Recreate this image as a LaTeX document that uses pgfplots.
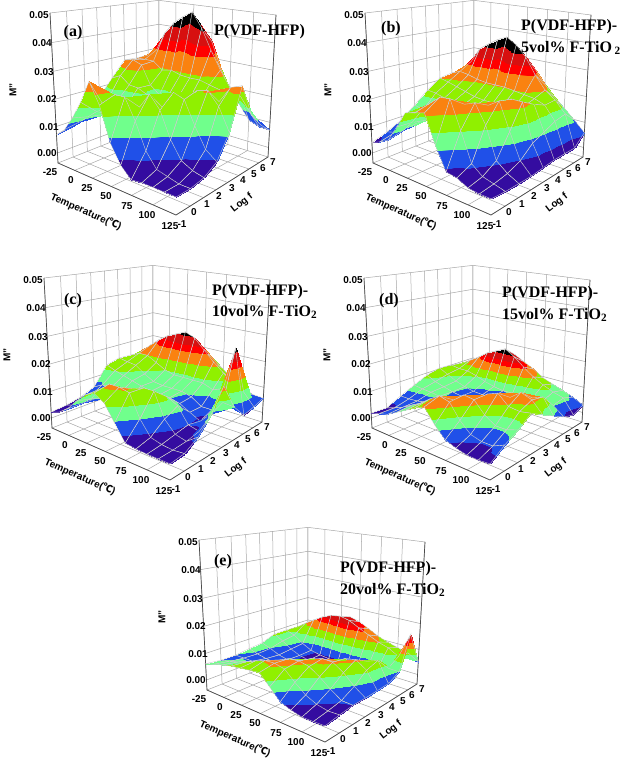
\documentclass[border=0pt]{standalone}
\usepackage{fontspec}
\usepackage{pgfplots}
\usepackage{pgfplotstable}
\pgfplotsset{compat=1.18}
\setmainfont{Liberation Sans}
\newfontfamily\serifb{Liberation Serif}
\newfontfamily\cjk{Noto Sans CJK SC}
\definecolor{c1}{RGB}{52,12,160}
\definecolor{c2}{RGB}{32,80,232}
\definecolor{c3}{RGB}{112,255,140}
\definecolor{c4}{RGB}{144,240,0}
\definecolor{c5}{RGB}{250,130,16}
\definecolor{c6}{RGB}{255,0,0}
\definecolor{c7}{RGB}{215,16,16}
\definecolor{c8}{RGB}{0,0,0}
\pgfplotsset{
 colormap={bands}{color(0)=(c1) color(1)=(c1) color(1.01)=(c2) color(2)=(c2) color(2.01)=(c3) color(3)=(c3) color(3.01)=(c4) color(4)=(c4) color(4.01)=(c5) color(5)=(c5) color(5.01)=(c6) color(5.6)=(c6) color(5.61)=(c7) color(6.4)=(c7) color(6.41)=(c8) color(7)=(c8)},
 /pgf/declare function={
  uu(\T)=(\T+25)/150;
  vv(\f)=(\f+1)/8;
  ww(\M)=(\M+0.00385)/0.05385;
  DD(\T,\f,\M)=1-0.17524*uu(\T)+0.23048*vv(\f)-0.07274*ww(\M);
  PX(\T,\f,\M)=(87.16*uu(\T)+137.65*vv(\f)+58-11.64*ww(\M))/DD(\T,\f,\M);
  PY(\T,\f,\M)=(14.32*uu(\T)-11.65*vv(\f)+163-150.95*ww(\M))/DD(\T,\f,\M);
  TT(\i)=-25+12.5*floor((\i+0.5)/9);
  FF(\i)=7-(\i-9*floor((\i+0.5)/9));
 },
 panel/.style={hide axis,x=1pt,y=1pt,xmin=0,xmax=300,ymin=0,ymax=250,y dir=reverse,clip=false,anchor=north west},
}
\pgfplotstableread[row sep=\\]{M\\
.0246\\.0279\\.0278\\.0282\\.0222\\.016\\.010\\.008\\.007\\
.027\\.0307\\.028\\.029\\.024\\.016\\.012\\.011\\.010\\
.035\\.0384\\.028\\.0277\\.0212\\.016\\.013\\.014\\.0154\\
.038\\.043\\.0252\\.0206\\.0209\\.015\\.014\\.017\\.022\\
.040\\.0459\\.026\\.0176\\.0192\\.014\\.015\\.019\\.030\\
.040\\.0483\\.0249\\.0186\\.0183\\.014\\.017\\.025\\.023\\
.0366\\.0427\\.0246\\.0186\\.0165\\.015\\.020\\.0251\\.0114\\
.0267\\.0349\\.0247\\.018\\.015\\.019\\.0255\\.018\\.005\\
.0188\\.028\\.0237\\.018\\.018\\.0255\\.021\\.009\\.0015\\
.014\\.022\\.0228\\.019\\.0255\\.024\\.012\\.004\\.002\\
.0087\\.0202\\.0229\\.021\\.0265\\.016\\.006\\.003\\.002\\
.0072\\.0143\\.022\\.027\\.022\\.009\\.004\\.002\\.002\\
.0069\\.0109\\.0165\\.0285\\.014\\.006\\.003\\.002\\.002\\
}\tabA
\pgfplotstableread[row sep=\\]{M\\
.018\\.0211\\.0216\\.0208\\.0173\\.0129\\.0087\\.006\\.004\\
.021\\.026\\.023\\.020\\.017\\.012\\.009\\.007\\.0055\\
.024\\.032\\.0225\\.019\\.016\\.012\\.010\\.009\\.0074\\
.026\\.0346\\.0215\\.018\\.0155\\.012\\.012\\.013\\.0133\\
.03\\.037\\.021\\.017\\.015\\.013\\.014\\.018\\.0193\\
.03\\.0386\\.021\\.0165\\.015\\.014\\.016\\.022\\.0204\\
.03\\.0362\\.021\\.0165\\.015\\.015\\.019\\.025\\.0215\\
.026\\.0322\\.0205\\.0165\\.016\\.017\\.022\\.0255\\.0119\\
.021\\.0261\\.02\\.0165\\.018\\.021\\.0235\\.016\\.0042\\
.0169\\.0212\\.0195\\.018\\.0225\\.0235\\.017\\.006\\.0036\\
.0135\\.0183\\.018\\.020\\.0225\\.014\\.006\\.003\\.0018\\
.0098\\.014\\.013\\.011\\.009\\.005\\.003\\.002\\.0014\\
.006\\.002\\.002\\.002\\.0015\\.001\\.001\\.001\\.0014\\
}\tabB
\pgfplotstableread[row sep=\\]{M\\
.012\\.0137\\.0143\\.0146\\.0133\\.0061\\.0040\\.0028\\.0023\\
.015\\.018\\.016\\.014\\.012\\.008\\.005\\.004\\.0035\\
.017\\.0211\\.016\\.0135\\.011\\.008\\.006\\.006\\.006\\
.018\\.0236\\.014\\.011\\.010\\.007\\.007\\.009\\.010\\
.019\\.0252\\.012\\.009\\.009\\.007\\.009\\.0135\\.0134\\
.020\\.0268\\.011\\.0085\\.008\\.007\\.011\\.0165\\.0153\\
.019\\.0252\\.011\\.0085\\.008\\.008\\.014\\.0165\\.0131\\
.016\\.0213\\.011\\.0085\\.008\\.011\\.0155\\.0157\\.0075\\
.013\\.0175\\.011\\.0075\\.007\\.0115\\.0155\\.008\\.0021\\
.010\\.0142\\.0095\\.005\\.005\\.0095\\.007\\.003\\.0016\\
.008\\.011\\.011\\.005\\.003\\.004\\.003\\.002\\.0014\\
.006\\.009\\.027\\.009\\.007\\.003\\.002\\.0016\\.0014\\
.0058\\.0044\\.0034\\.0086\\.018\\.0101\\.0049\\.002\\.0014\\
}\tabC
\pgfplotstableread[row sep=\\]{M\\
.008\\.0092\\.0100\\.0104\\.0091\\.0068\\.0044\\.0017\\.0019\\
.0095\\.0115\\.0095\\.0088\\.0075\\.0064\\.0044\\.003\\.003\\
.011\\.0138\\.0095\\.0070\\.0065\\.0062\\.0048\\.0045\\.004\\
.013\\.0165\\.0085\\.0058\\.0056\\.0058\\.0055\\.0065\\.006\\
.015\\.0182\\.0072\\.0050\\.0050\\.0056\\.0065\\.0085\\.008\\
.016\\.020\\.0062\\.0048\\.0048\\.0056\\.0078\\.0112\\.0101\\
.014\\.0176\\.0056\\.0048\\.0050\\.0062\\.0100\\.0135\\.0117\\
.012\\.0145\\.0058\\.0052\\.0058\\.0085\\.0130\\.0125\\.0069\\
.0095\\.0116\\.0062\\.0058\\.0070\\.0125\\.0125\\.0075\\.0032\\
.0080\\.0095\\.0062\\.0065\\.0105\\.0140\\.0085\\.0040\\.0019\\
.0065\\.0078\\.0062\\.0095\\.0135\\.0105\\.0060\\.0030\\.0011\\
.0050\\.0066\\.0058\\.0110\\.0120\\.0100\\.0060\\.0030\\.001\\
.003\\.0012\\.0027\\.0053\\.0079\\.0107\\.0073\\.0048\\.0014\\
}\tabD
\pgfplotstableread[row sep=\\]{M\\
.0075\\.0084\\.0087\\.0087\\.0067\\.0062\\.0055\\.0055\\.0062\\
.0095\\.0110\\.0075\\.0068\\.0055\\.0052\\.0055\\.0062\\.0072\\
.0115\\.0134\\.0050\\.0045\\.0040\\.0045\\.0055\\.0072\\.0082\\
.013\\.0156\\.0032\\.0030\\.0032\\.0042\\.0060\\.0085\\.0090\\
.015\\.0172\\.0024\\.0022\\.0028\\.0045\\.0075\\.0100\\.0095\\
.016\\.0178\\.0020\\.0020\\.0030\\.0060\\.0095\\.0114\\.0100\\
.015\\.0170\\.0020\\.0020\\.0040\\.0085\\.0112\\.0116\\.0105\\
.013\\.0150\\.0020\\.0022\\.0055\\.0105\\.0116\\.0108\\.0069\\
.011\\.0132\\.0022\\.0035\\.0085\\.0116\\.0108\\.0075\\.0032\\
.0095\\.0114\\.0028\\.0060\\.0108\\.0115\\.0085\\.0045\\.0019\\
.0085\\.0102\\.0040\\.0090\\.0116\\.0090\\.0055\\.0028\\.0011\\
.0075\\.0080\\.0055\\.0105\\.0090\\.0055\\.0030\\.0020\\.0012\\
.0050\\.0175\\.0054\\.0032\\.0030\\.0028\\.0028\\.0022\\.0014\\
}\tabE
\newcommand\floorM{-0.00385}
\tikzset{wall/.style={draw=black!35,line width=.5pt},edge/.style={draw=black!70,line width=.7pt},tl/.style={font=\bfseries\fontsize{10}{10}\selectfont,inner sep=0pt},ttl/.style={font=\serifb\bfseries\fontsize{16}{16}\selectfont,inner sep=0pt}}
\newcommand\frameaxis{%
 \pgfplotsinvokeforeach{-25,0,25,50,75,100,125}{\draw[wall] (axis cs:{PX(##1,-1,\floorM)},{PY(##1,-1,\floorM)}) -- (axis cs:{PX(##1,7,\floorM)},{PY(##1,7,\floorM)});
  \draw[wall] (axis cs:{PX(##1,7,\floorM)},{PY(##1,7,\floorM)}) -- (axis cs:{PX(##1,7,0.05)},{PY(##1,7,0.05)});}
 \pgfplotsinvokeforeach{-1,0,1,2,3,4,5,6,7}{\draw[wall] (axis cs:{PX(-25,##1,\floorM)},{PY(-25,##1,\floorM)}) -- (axis cs:{PX(125,##1,\floorM)},{PY(125,##1,\floorM)});
  \draw[wall] (axis cs:{PX(-25,##1,\floorM)},{PY(-25,##1,\floorM)}) -- (axis cs:{PX(-25,##1,0.05)},{PY(-25,##1,0.05)});}
 \pgfplotsinvokeforeach{0,0.01,0.02,0.03,0.04,0.05}{\draw[wall] (axis cs:{PX(-25,-1,##1)},{PY(-25,-1,##1)}) -- (axis cs:{PX(-25,7,##1)},{PY(-25,7,##1)}) -- (axis cs:{PX(125,7,##1)},{PY(125,7,##1)});}
 \draw[edge] (axis cs:{PX(-25,-1,0.05)},{PY(-25,-1,0.05)}) -- (axis cs:{PX(-25,-1,\floorM)},{PY(-25,-1,\floorM)}) -- (axis cs:{PX(125,-1,\floorM)},{PY(125,-1,\floorM)}) -- (axis cs:{PX(125,7,\floorM)},{PY(125,7,\floorM)}) -- (axis cs:{PX(125,7,0.05)},{PY(125,7,0.05)});
}
\newcommand\tk[3]{\node[tl] at (axis cs:#1,#2) {#3};}
\newcommand\ticklabels{%
 \tk{39}{15}{0.05}\tk{42}{43}{0.04}\tk{44}{72}{0.03}\tk{47}{99}{0.02}\tk{49}{127}{0.01}\tk{47}{153}{0.00}%
 \tk{50}{172}{-25}\tk{71}{180}{0}\tk{87}{188}{25}\tk{106}{196}{50}\tk{127}{206}{75}\tk{147}{215}{100}\tk{170}{226}{125}%
 \tk{182}{224}{-1}\tk{194}{212}{0}\tk{207}{204}{1}\tk{219}{196}{2}\tk{232}{188}{3}\tk{243}{180}{4}\tk{254}{174}{5}\tk{263}{168}{6}\tk{273}{162}{7}%
 \node[tl,rotate=90] at (axis cs:13,90) {M''};
 \node[tl,rotate=-24] at (axis cs:86,212) {Temperature({\cjk ℃})};
 \node[tl,rotate=38] at (axis cs:242,203) {Log f};
}
\newcommand\panel[4]{% x shift, y shift, table, meta max
 \begin{axis}[panel,at={(#1pt,-#2pt)},point meta min=0,point meta max=#4,colormap name=bands]
 \frameaxis
 \addplot[surf,shader=faceted interp,faceted color=black!20,line width=.4pt,mesh/cols=9,mesh/ordering=x varies,point meta=\thisrow{M}]
  table[x=M,y=M,x expr={PX(TT(\coordindex),FF(\coordindex),\thisrow{M})},y expr={PY(TT(\coordindex),FF(\coordindex),\thisrow{M})}] {#3};
 \ticklabels
 \end{axis}}
\begin{document}
\begin{tikzpicture}[x=1pt,y=1pt]
\path[use as bounding box] (0,0) rectangle (625,-760);
\panel{0}{0}{\tabA}{0.0455}
\panel{315}{0}{\tabB}{0.0364}
\panel{-6}{265}{\tabC}{0.028}
\panel{314}{265}{\tabD}{0.0196}
\panel{149}{527}{\tabE}{0.0196}
\node[ttl] at (73,-33) {(a)};
\node[ttl,anchor=west] at (214,-32) {P(VDF-HFP)};
\node[ttl] at (391,-29) {(b)};
\node[ttl,anchor=west] at (521,-27) {P(VDF-HFP)-};
\node[ttl,anchor=west] at (521,-48) {5vol\% F-TiO\,\textsubscript{2}};
\node[ttl] at (73,-301) {(c)};
\node[ttl,anchor=west] at (212,-292) {P(VDF-HFP)-};
\node[ttl,anchor=west] at (212,-312) {10vol\% F-TiO\textsubscript{2}};
\node[ttl] at (389,-301) {(d)};
\node[ttl,anchor=west] at (502,-294) {P(VDF-HFP)-};
\node[ttl,anchor=west] at (502,-315) {15vol\% F-TiO\textsubscript{2}};
\node[ttl] at (223,-562) {(e)};
\node[ttl,anchor=west] at (340,-569) {P(VDF-HFP)-};
\node[ttl,anchor=west] at (340,-590) {20vol\% F-TiO\textsubscript{2}};
\end{tikzpicture}
\end{document}
